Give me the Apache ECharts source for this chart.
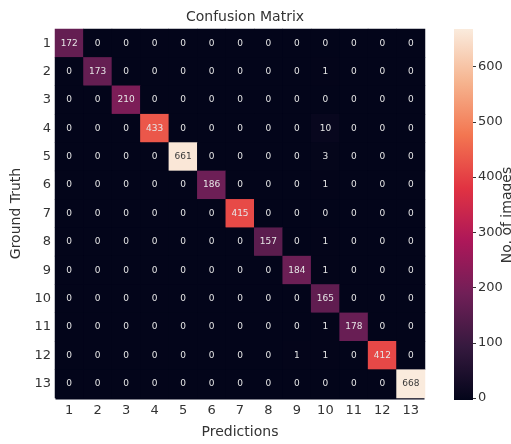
<!DOCTYPE html>
<html>
<head>
<meta charset="utf-8">
<script src="https://cdn.jsdelivr.net/npm/echarts@6/dist/echarts.min.js"></script>
<style>html,body{margin:0;padding:0;background:#fff}#c{width:511px;height:444px}</style>
</head>
<body>
<div id="c"></div>
<script>
const categories = ['1','2','3','4','5','6','7','8','9','10','11','12','13'];
const gt1  = [172,0,0,0,0,0,0,0,0,0,0,0,0];
const gt2  = [0,173,0,0,0,0,0,0,0,1,0,0,0];
const gt3  = [0,0,210,0,0,0,0,0,0,0,0,0,0];
const gt4  = [0,0,0,433,0,0,0,0,0,10,0,0,0];
const gt5  = [0,0,0,0,661,0,0,0,0,3,0,0,0];
const gt6  = [0,0,0,0,0,186,0,0,0,1,0,0,0];
const gt7  = [0,0,0,0,0,0,415,0,0,0,0,0,0];
const gt8  = [0,0,0,0,0,0,0,157,0,1,0,0,0];
const gt9  = [0,0,0,0,0,0,0,0,184,1,0,0,0];
const gt10 = [0,0,0,0,0,0,0,0,0,165,0,0,0];
const gt11 = [0,0,0,0,0,0,0,0,0,1,178,0,0];
const gt12 = [0,0,0,0,0,0,0,0,1,1,0,412,0];
const gt13 = [0,0,0,0,0,0,0,0,0,0,0,0,668];
const colorTicks = [0,100,200,300,400,500,600];
const colorMax = 668;

const rows = [gt1,gt2,gt3,gt4,gt5,gt6,gt7,gt8,gt9,gt10,gt11,gt12,gt13];
const data = [];
rows.forEach((r, yi) => r.forEach((v, xi) => {
  const item = {value: [xi, yi, v]};
  if (v > 0.75 * colorMax) item.label = {color: '#3a3a3a'};
  data.push(item);
}));

const rocket = ['#03051a','#35193e','#701f57','#ad1759','#e13342','#f37651','#f6b48f','#faebdd'];
const font = 'DejaVu Sans';
const txt = '#333333';
const gLeft = 55, gTop = 29, gW = 370, gH = 371;
const cbLeft = 454, cbW = 19;
const chart = echarts.init(document.getElementById('c'), null, {renderer: 'canvas'});
chart.setOption({
  animation: false,
  backgroundColor: '#ffffff',
  title: {
    text: 'Confusion Matrix', left: 240, top: 5, textAlign: 'center',
    textStyle: {fontFamily: font, fontSize: 14, fontWeight: 'normal', color: txt}
  },
  grid: {left: gLeft, top: gTop, width: gW, height: gH},
  xAxis: {type: 'category', data: categories,
     axisLine: {show: false}, axisTick: {show: false},
     splitLine: {show: false}, splitArea: {show: false},
     axisLabel: {fontFamily: font, fontSize: 13, color: txt, margin: 6},
     name: 'Predictions', nameLocation: 'middle', nameGap: 27,
     nameTextStyle: {fontFamily: font, fontSize: 14, color: txt}},
  yAxis: [
    {type: 'category', data: categories, inverse: true,
     axisLine: {show: false}, axisTick: {show: false},
     splitLine: {show: false}, splitArea: {show: false},
     axisLabel: {fontFamily: font, fontSize: 13, color: txt, margin: 4},
     name: 'Ground Truth', nameLocation: 'middle', nameGap: 28, nameRotate: 90,
     nameTextStyle: {fontFamily: font, fontSize: 14, color: txt}},
    {type: 'value', position: 'right', offset: cbLeft + cbW - gLeft - gW,
     min: 0, max: colorMax, interval: 100,
     splitLine: {show: false}, splitArea: {show: false},
     axisLine: {show: false},
     axisTick: {show: true, inside: false, length: 3, lineStyle: {color: txt}, customValues: colorTicks},
     axisLabel: {fontFamily: font, fontSize: 13, color: txt, margin: 5, customValues: colorTicks,
       formatter: v => colorTicks.includes(v) ? String(v) : ''}}
  ],
  visualMap: {
    type: 'continuous', min: 0, max: colorMax, seriesIndex: 0,
    show: false, inRange: {color: rocket}
  },
  graphic: [
    {type: 'rect', left: gLeft + 0.5, top: gTop + 0.5, z: -1, silent: true,
     shape: {width: gW - 1, height: gH - 1},
     style: {fill: rocket[0]}},
    {type: 'rect', left: cbLeft, top: gTop, z: 0, silent: true,
     shape: {width: cbW, height: gH},
     style: {fill: new echarts.graphic.LinearGradient(0, 1, 0, 0,
       rocket.map((c, i) => ({offset: i / (rocket.length - 1), color: c})))}},
    {type: 'text', x: 507, y: 215, rotation: Math.PI / 2,
     style: {text: 'No. of images', fontFamily: font, fontSize: 14, fill: txt,
             textAlign: 'center', textVerticalAlign: 'middle'}}
  ],
  series: [
    {type: 'heatmap', yAxisIndex: 0, data: data,
     label: {show: true, fontFamily: font, fontSize: 9, color: '#e6e6e6',
             formatter: p => String(p.value[2])},
     itemStyle: {borderWidth: 0},
     emphasis: {disabled: true}}
  ]
});
</script>
</body>
</html>
